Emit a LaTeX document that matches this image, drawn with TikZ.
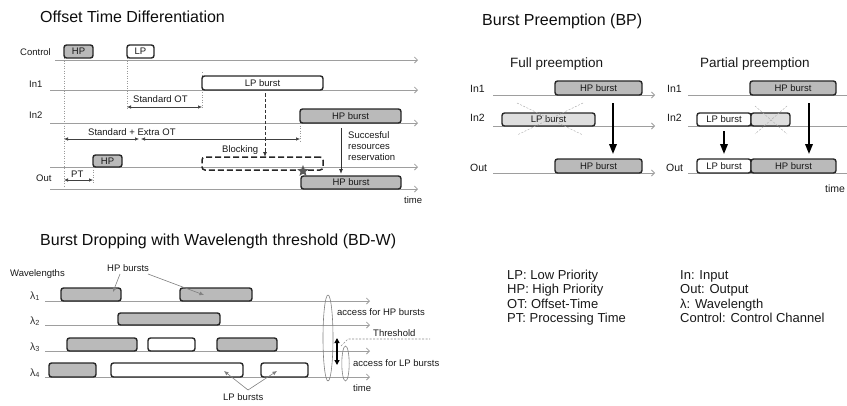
\documentclass[tikz,border=0pt]{standalone}
\usepackage{fontspec}
\setmainfont{Liberation Sans}
\usetikzlibrary{arrows.meta,shapes.geometric}
\newcommand\burstbox[6]{\node[#1, minimum width={(#4-#2)*1pt}, minimum height={(#5-#3)*1pt}] (#6) at ({(#2+#4)/2},{(#3+#5)/2})}
\begin{document}
\begin{tikzpicture}[x=1pt,y=-1pt,
  tline/.style={draw=black!38, line width=0.8pt, -{Straight Barb[length=3pt,width=6pt]}},
  tlinen/.style={draw=black!38, line width=0.8pt},
  burst/.style={draw=black!85, line width=1.4pt, rounded corners=2.5pt, inner sep=0pt, font=\fontsize{9.5}{10}\selectfont, text=black!90},
  hp/.style={burst, fill=black!27},
  lp/.style={burst, fill=white},
  drop/.style={burst, fill=black!13},
  blocking/.style={draw=black!85, line width=1.5pt, rounded corners=3pt, dash pattern=on 6pt off 3pt, inner sep=0pt},
  lbl/.style={font=\fontsize{9.5}{11}\selectfont, inner sep=0pt, text=black!90, anchor=base west},
  bplbl/.style={font=\fontsize{10.5}{12}\selectfont, inner sep=0pt, text=black!90, anchor=base west},
  ttl/.style={font=\fontsize{16}{18}\selectfont, inner sep=0pt, text=black!95, anchor=base west},
  subttl/.style={font=\fontsize{13.5}{15}\selectfont, inner sep=0pt, text=black!90, anchor=base west},
  leg/.style={font=\fontsize{13}{15}\selectfont, inner sep=0pt, text=black!90, anchor=base west},
  dimarr/.style={draw=black!75, line width=0.6pt, {Latex[length=4pt,width=3.5pt]}-{Latex[length=4pt,width=3.5pt]}},
  vdot/.style={draw=black!40, line width=0.5pt, dash pattern=on 1pt off 1.5pt},
  dasharr/.style={draw=black!80, line width=0.9pt, dash pattern=on 3.5pt off 2pt, -{Latex[length=5pt,width=4pt]}},
  solarr/.style={draw=black!80, line width=0.9pt, -{Latex[length=5pt,width=4pt]}},
  bigarr/.style={draw=black, line width=1.8pt, -{Triangle[length=10pt,width=7.5pt]}},
  xcross/.style={draw=black!30, line width=0.5pt, dash pattern=on 2pt off 1.5pt},
  leader/.style={draw=black!50, line width=0.6pt, -{Latex[length=4.5pt,width=4pt]}},
  thresh/.style={draw=black!45, line width=0.6pt, dash pattern=on 2pt off 1.5pt},
  ell/.style={draw=black!50, line width=0.6pt},
  dbl/.style={draw=black, line width=1.6pt, {Triangle[length=5pt,width=5pt]}-{Triangle[length=5pt,width=5pt]}},
]
\useasboundingbox (0,0) rectangle (847,405);

% ================= Offset Time Differentiation =================
\node[ttl] (t1) at (40,22) {Offset Time Differentiation};
\node[lbl] (lctl) at (20,55) {Control};
\node[lbl] (lin1) at (29,87) {In1};
\node[lbl] (lin2) at (29,118.5) {In2};
\node[lbl] (lout) at (36,181) {Out};

\coordinate (ctl0) at (55,60);  \coordinate (ctl1) at (418,60);
\coordinate (in10) at (50,90);  \coordinate (in11) at (418,90);
\coordinate (in20) at (50,123); \coordinate (in21) at (418,123);
\coordinate (oc0) at (50,167);  \coordinate (oc1) at (418,167);
\coordinate (od0) at (50,189);  \coordinate (od1) at (418,189);
\draw[tline] (ctl0) -- (ctl1);
\draw[tline] (in10) -- (in11);
\draw[tline] (in20) -- (in21);
\draw[tline] (oc0) -- (oc1);
\draw[tline] (od0) -- (od1);

% dotted guides
\coordinate (g1a) at (64,58);  \coordinate (g1b) at (64,186);
\coordinate (g2a) at (127,58); \coordinate (g2b) at (127,109);
\coordinate (g3a) at (202,72); \coordinate (g3b) at (202,109);
\coordinate (g4a) at (300,123); \coordinate (g4b) at (300,141);
\coordinate (g5a) at (93,167); \coordinate (g5b) at (93,184);
\draw[vdot] (g1a) -- (g1b);
\draw[vdot] (g2a) -- (g2b);
\draw[vdot] (g3a) -- (g3b);
\draw[vdot] (g4a) -- (g4b);
\draw[vdot] (g5a) -- (g5b);

\burstbox{hp}{64}{45}{93}{58}{chp} {HP};
\burstbox{lp}{127}{45}{154}{58}{clp} {LP};
\burstbox{lp}{202}{76}{323}{90}{lpb} {LP burst\hspace{47pt}};
\burstbox{hp}{300}{109}{401}{123}{hpb2} {HP burst\hspace{37pt}};
\burstbox{hp}{93}{155}{122}{167}{ohp} {HP};
\burstbox{blocking}{202}{157}{323}{170}{blk} {};
\burstbox{hp}{301}{176}{401}{189}{ohpb} {HP burst\hspace{37pt}};
\node[star, star points=5, star point ratio=2.3, fill=black!65, minimum size=12pt, inner sep=0pt] (stx) at (303,171) {};

% dimension arrows
\coordinate (so0) at (127,107); \coordinate (so1) at (202,107);
\draw[dimarr] (so0) -- (so1);
\node[lbl] (lso) at (133,102.5) {Standard OT};
\coordinate (se0) at (64,139); \coordinate (se1) at (139,139);
\coordinate (se2) at (141,139); \coordinate (se3) at (300,139);
\draw[dimarr] (se0) -- (se1);
\draw[dimarr] (se2) -- (se3);
\node[lbl] (lse) at (88,135.5) {Standard + Extra OT};
\coordinate (pt0) at (64,180); \coordinate (pt1) at (93,180);
\draw[dimarr] (pt0) -- (pt1);
\node[lbl] (lpt) at (71,177) {PT};

\coordinate (da0) at (265,93); \coordinate (da1) at (265,157);
\draw[dasharr] (da0) -- (da1);
\node[lbl] (lblk) at (222,152.5) {Blocking};
\coordinate (sa0) at (341,128); \coordinate (sa1) at (341,174);
\draw[solarr] (sa0) -- (sa1);
\node[font=\fontsize{9.5}{11}\selectfont, inner sep=0pt, text=black!90, align=left, anchor=west] (lsucc) at (348,146.5) {Succesful\\resources\\reservation};
\node[lbl] (ltime1) at (404,203) {time};

% ================= Burst Preemption =================
\node[ttl] (t2) at (482,25) {Burst Preemption (BP)};
\node[subttl] (tfull) at (510,67) {Full preemption};
\node[subttl] (tpart) at (700,67) {Partial preemption};

\node[bplbl] (fin1) at (470,92) {In1};
\node[bplbl] (fin2) at (470,121) {In2};
\node[bplbl] (fout) at (470,171) {Out};
\coordinate (fa0) at (493,95);  \coordinate (fa1) at (655,95);
\coordinate (fb0) at (493,126); \coordinate (fb1) at (655,126);
\coordinate (fc0) at (493,173); \coordinate (fc1) at (655,173);
\draw[tline] (fa0) -- (fa1);
\draw[tline] (fb0) -- (fb1);
\draw[tline] (fc0) -- (fc1);
\burstbox{hp}{555}{81}{642}{95}{fhp} {HP burst};
\burstbox{drop}{502}{113}{595}{126}{flp} {LP burst};
\coordinate (fx0) at (517,103); \coordinate (fx1) at (583,135);
\coordinate (fx2) at (583,103); \coordinate (fx3) at (517,135);
\draw[xcross] (fx0) -- (fx1);
\draw[xcross] (fx2) -- (fx3);
\burstbox{hp}{555}{159}{642}{173}{fohp} {HP burst};
\coordinate (fr0) at (613,103); \coordinate (fr1) at (613,154);
\draw[bigarr] (fr0) -- (fr1);

\node[bplbl] (pin1) at (667,92) {In1};
\node[bplbl] (pin2) at (667,121) {In2};
\node[bplbl] (pout) at (666,171) {Out};
\coordinate (pa0) at (688,95);  \coordinate (pa1) at (847,95);
\coordinate (pb0) at (688,126); \coordinate (pb1) at (847,126);
\coordinate (pc0) at (688,173); \coordinate (pc1) at (847,173);
\draw[tlinen] (pa0) -- (pa1);
\draw[tlinen] (pb0) -- (pb1);
\draw[tlinen] (pc0) -- (pc1);
\burstbox{hp}{750}{81}{836}{95}{php} {HP burst};
\burstbox{lp}{697}{113}{751}{126}{plp} {LP burst};
\burstbox{drop}{751}{113}{790}{126}{pdrop} {};
\coordinate (px0) at (755,106); \coordinate (px1) at (787,134);
\coordinate (px2) at (787,106); \coordinate (px3) at (755,134);
\draw[xcross] (px0) -- (px1);
\draw[xcross] (px2) -- (px3);
\burstbox{lp}{697}{159}{751}{173}{polp} {LP burst};
\burstbox{hp}{751}{159}{836}{173}{pohp} {HP burst};
\coordinate (pr0) at (724,131); \coordinate (pr1) at (724,154);
\draw[bigarr] (pr0) -- (pr1);
\coordinate (pr2) at (809,103); \coordinate (pr3) at (809,154);
\draw[bigarr] (pr2) -- (pr3);
\node[bplbl] (ltime2) at (825,192) {time};

% ================= BD-W =================
\node[ttl] (t3) at (40,245) {Burst Dropping with Wavelength threshold (BD-W)};
\node[lbl] (lwl) at (10,276) {Wavelengths};
\node[lbl] (lhpb) at (107,271) {HP bursts};
\node[font=\fontsize{10.5}{12}\selectfont, inner sep=0pt, text=black!80, anchor=base west] (l1) at (30,299) {λ\textsubscript{1}};
\node[font=\fontsize{10.5}{12}\selectfont, inner sep=0pt, text=black!80, anchor=base west] (l2) at (30,324) {λ\textsubscript{2}};
\node[font=\fontsize{10.5}{12}\selectfont, inner sep=0pt, text=black!80, anchor=base west] (l3) at (30,350) {λ\textsubscript{3}};
\node[font=\fontsize{10.5}{12}\selectfont, inner sep=0pt, text=black!80, anchor=base west] (l4) at (30,376) {λ\textsubscript{4}};

\coordinate (w10) at (45,301); \coordinate (w11) at (370,301);
\coordinate (w20) at (45,325); \coordinate (w21) at (370,325);
\coordinate (w30) at (45,351); \coordinate (w31) at (370,351);
\coordinate (w40) at (45,377); \coordinate (w41) at (370,377);
\draw[tline] (w10) -- (w11);
\draw[tline] (w20) -- (w21);
\draw[tline] (w30) -- (w31);
\draw[tline] (w40) -- (w41);

\burstbox{hp}{61}{288}{121}{301}{b11} {};
\burstbox{hp}{180}{288}{252}{301}{b12} {};
\burstbox{hp}{118}{313}{220}{325}{b21} {};
\burstbox{hp}{67}{338}{137}{351}{b31} {};
\burstbox{lp}{148}{338}{195}{351}{b32} {};
\burstbox{hp}{217}{338}{277}{351}{b33} {};
\burstbox{hp}{49}{363}{96}{377}{b41} {};
\burstbox{lp}{111}{363}{243}{377}{b42} {};
\burstbox{lp}{261}{363}{308}{377}{b43} {};

\coordinate (hl0) at (120,274); \coordinate (hl1) at (113,292);
\coordinate (hl2) at (148,274); \coordinate (hl3) at (204,295);
\draw[leader] (hl0) -- (hl1);
\draw[leader] (hl2) -- (hl3);

\node[lbl] (llpb) at (223,400.5) {LP bursts};
\coordinate (ll0) at (248,390); \coordinate (ll1) at (224,371); \coordinate (ll2) at (277,371);
\draw[leader] (ll0) -- (ll1);
\draw[leader] (ll0) -- (ll2);

\draw[ell] (328,338) ellipse [x radius=5, y radius=43];
\draw[ell] (345.5,363.5) ellipse [x radius=3.7, y radius=17.5];
\coordinate (d0) at (337,338); \coordinate (d1) at (337,365);
\draw[dbl] (d0) -- (d1);
\coordinate (th0) at (341,346); \coordinate (th1) at (348,339); \coordinate (th2) at (430,339);
\draw[thresh] (th0) -- (th1) -- (th2);
\node[lbl] (lah) at (337,315) {access for HP bursts};
\node[lbl] (lth) at (373,336.5) {Threshold};
\node[lbl] (lal) at (353,366.5) {access for LP bursts};
\node[lbl] (ltime3) at (353,391) {time};

% ================= Legend =================
\node[leg] (lg1) at (507,279) {LP: Low Priority};
\node[leg] (lg2) at (507,293.6) {HP: High Priority};
\node[leg] (lg3) at (507,308.2) {OT: Offset-Time};
\node[leg] (lg4) at (507,322.8) {PT: Processing Time};
\node[leg] (lg5) at (680,279) {In: Input};
\node[leg] (lg6) at (680,293.6) {Out: Output};
\node[leg] (lg7) at (680,308.2) {λ: Wavelength};
\node[leg] (lg8) at (680,322.8) {Control: Control Channel};
\end{tikzpicture}
\end{document}
